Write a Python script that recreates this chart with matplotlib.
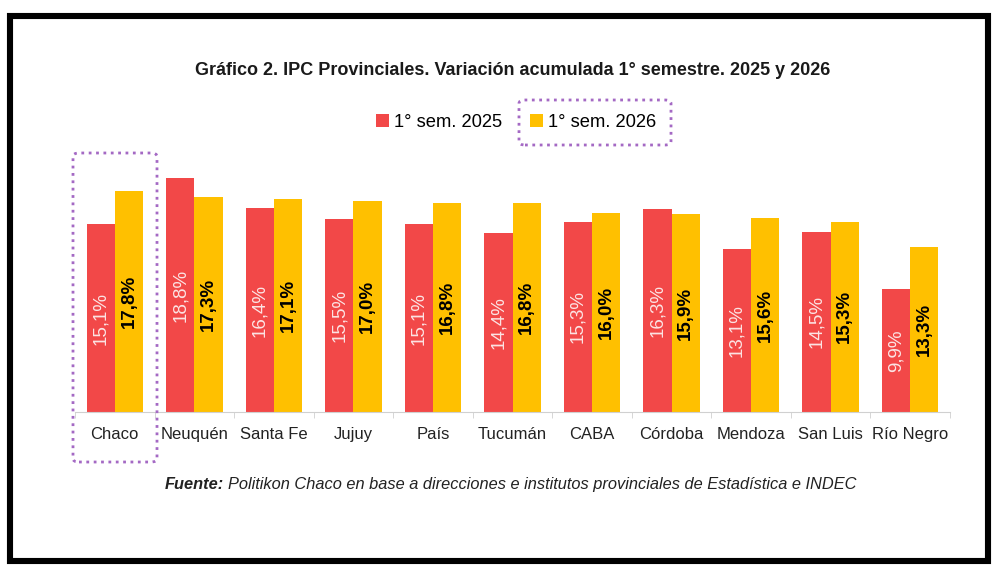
import numpy as np
import matplotlib
matplotlib.use('Agg')
import matplotlib.pyplot as plt
from matplotlib.patches import FancyBboxPatch, Rectangle

# Datos
provincias = ['Chaco', 'Neuquén', 'Santa Fe', 'Jujuy', 'País', 'Tucumán',
              'CABA', 'Córdoba', 'Mendoza', 'San Luis', 'Río Negro']
sem_2025 = [15.1, 18.8, 16.4, 15.5, 15.1, 14.4, 15.3, 16.3, 13.1, 14.5, 9.9]
sem_2026 = [17.8, 17.3, 17.1, 17.0, 16.8, 16.8, 16.0, 15.9, 15.6, 15.3, 13.3]

rojo = '#F24848'
amarillo = '#FFC000'
violeta = '#A469C4'

plt.rcParams['font.family'] = ['Liberation Sans', 'DejaVu Sans']

fig = plt.figure(figsize=(10, 5.84), dpi=100)
ax = fig.add_axes([0.075, 0.2945, 0.875, 0.4257])

x = np.arange(len(provincias))
ancho = 0.355
b1 = ax.bar(x - ancho / 2, sem_2025, ancho, color=rojo, label='1° sem. 2025')
b2 = ax.bar(x + ancho / 2, sem_2026, ancho, color=amarillo, label='1° sem. 2026')

# Etiquetas dentro de las barras
for rect, v in zip(b1, sem_2025):
    ax.text(rect.get_x() + rect.get_width() / 2, v / 2, f'{v:.1f}%'.replace('.', ','),
            rotation=90, ha='center', va='center', fontsize=13.5, color='#FCE4E4')
for rect, v in zip(b2, sem_2026):
    ax.text(rect.get_x() + rect.get_width() / 2, v / 2, f'{v:.1f}%'.replace('.', ','),
            rotation=90, ha='center', va='center', fontsize=13.5, color='black',
            fontweight='bold')

ax.set_xlim(-0.5, len(provincias) - 0.5)
ax.set_ylim(0, 20)
ax.set_xticks(x)
ax.set_xticklabels(provincias, fontsize=12, color='#222222')
ax.set_xticks(np.arange(-0.5, len(provincias)), minor=True)
ax.tick_params(axis='x', which='major', length=0, pad=11)
ax.tick_params(axis='x', which='minor', length=4, color='#D0D0D0', direction='out')
ax.set_yticks([])
for s in ['top', 'right', 'left']:
    ax.spines[s].set_visible(False)
ax.spines['bottom'].set_color('#D0D0D0')

fig.text(0.513, 0.880, 'Gráfico 2. IPC Provinciales. Variación acumulada 1° semestre. 2025 y 2026',
         ha='center', va='center', fontsize=13, fontweight='bold', color='#1a1a1a')

fig.legend(handles=[b1, b2], loc='center', bbox_to_anchor=(0.516, 0.791), ncol=2,
           frameon=False, fontsize=13.2, handlelength=0.7, handleheight=0.7,
           handletextpad=0.3, columnspacing=1.5)

# Fuente
t1 = fig.text(0.165, 0.171, 'Fuente:', ha='left', va='center', fontsize=11.8,
              fontweight='bold', style='italic', color='#222222')
fig.canvas.draw()
bb = t1.get_window_extent()
fig.text(bb.x1 / fig.bbox.width + 0.004, 0.171,
         'Politikon Chaco en base a direcciones e institutos provinciales de Estadística e INDEC',
         ha='left', va='center', fontsize=11.8, style='italic', color='#222222')

# Recuadros violetas
fig.patches.append(FancyBboxPatch((0.073, (584 - 462) / 584), 0.084, (462 - 153) / 584,
                                  boxstyle='round,pad=0,rounding_size=0.006',
                                  transform=fig.transFigure, fill=False,
                                  edgecolor=violeta, linewidth=2, linestyle=':'))
fig.patches.append(FancyBboxPatch((0.519, (584 - 145) / 584), 0.152, (145 - 100) / 584,
                                  boxstyle='round,pad=0,rounding_size=0.006',
                                  transform=fig.transFigure, fill=False,
                                  edgecolor=violeta, linewidth=2, linestyle=':'))

# Marco negro
fig.patches.append(Rectangle((0.010, (584 - 561) / 584), 0.978, (561 - 16) / 584,
                             transform=fig.transFigure, fill=False,
                             edgecolor='black', linewidth=4.4))

fig.savefig('out.png', dpi=100)
